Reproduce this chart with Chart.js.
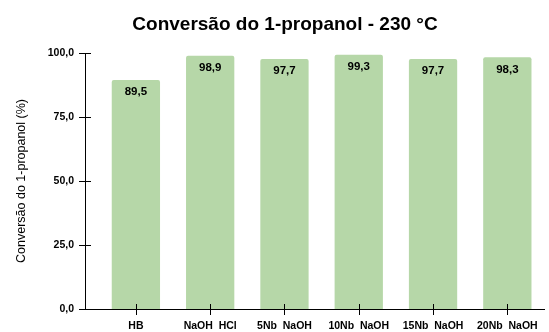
<!DOCTYPE html>
<html>
<head>
<meta charset="utf-8">
<script src="https://cdn.jsdelivr.net/npm/chart.js@4.4.1/dist/chart.umd.min.js"></script>
<style>
  html, body { margin: 0; padding: 0; background: #ffffff; }
  #wrap { width: 549px; height: 332px; }
</style>
</head>
<body>
<div id="wrap"><canvas id="c" width="549" height="332"></canvas></div>
<script>
const titleText = 'Conversão do 1-propanol - 230 °C';
const categories = ['HB', 'NaOH  HCl', '5Nb  NaOH', '10Nb  NaOH', '15Nb  NaOH', '20Nb  NaOH'];
const conversion = [89.5, 98.9, 97.7, 99.3, 97.7, 98.3];
const yTicks = [0, 25, 50, 75, 100];

const FONT = "'Liberation Sans', Arial, sans-serif";
const fmt = v => v.toFixed(1).replace('.', ',');

// Chart heading, centred a little right of the canvas middle
const heading = {
  id: 'heading',
  afterDraw(chart) {
    const ctx = chart.ctx;
    ctx.save();
    ctx.font = "bold 19px " + FONT;
    ctx.fillStyle = '#000';
    ctx.textAlign = 'center';
    ctx.textBaseline = 'alphabetic';
    ctx.fillText(titleText, 285, 30);
    ctx.restore();
  }
};

// Value labels drawn just inside the top of each bar
const barLabels = {
  id: 'barLabels',
  afterDatasetsDraw(chart) {
    const ctx = chart.ctx;
    const meta = chart.getDatasetMeta(0);
    ctx.save();
    ctx.font = "bold 11.5px " + FONT;
    ctx.fillStyle = '#000';
    ctx.textAlign = 'center';
    ctx.textBaseline = 'middle';
    meta.data.forEach((bar, i) => {
      ctx.fillText(fmt(conversion[i]), bar.x, bar.y + 12);
    });
    ctx.restore();
  }
};

// Cross-style tick marks on both axes
const crossTicks = {
  id: 'crossTicks',
  afterDraw(chart) {
    const ctx = chart.ctx;
    const xs = chart.scales.x, ys = chart.scales.y;
    const area = chart.chartArea;
    ctx.save();
    ctx.strokeStyle = '#000';
    ctx.lineWidth = 1;
    ctx.beginPath();
    yTicks.forEach(v => {
      const py = Math.round(ys.getPixelForValue(v)) + 0.5;
      ctx.moveTo(area.left - 6, py);
      ctx.lineTo(area.left + 6, py);
    });
    categories.forEach((_, i) => {
      const px = Math.round(xs.getPixelForValue(i)) + 0.5;
      ctx.moveTo(px, area.bottom - 5);
      ctx.lineTo(px, area.bottom + 6);
    });
    ctx.stroke();
    ctx.restore();
  }
};

new Chart(document.getElementById('c'), {
  type: 'bar',
  data: {
    datasets: [{
      data: conversion.map((v, i) => ({ x: i, y: v })),
      backgroundColor: '#b6d7a8',
      borderWidth: 0,
      borderRadius: 2,
      borderSkipped: 'bottom',
      barPercentage: 0.65,
      categoryPercentage: 1
    }]
  },
  options: {
    responsive: false,
    animation: false,
    layout: { padding: { left: 0, right: 4, top: 53, bottom: 0 } },
    plugins: {
      legend: { display: false },
      tooltip: { enabled: false },
      title: { display: false }
    },
    scales: {
      x: {
        type: 'linear',
        offset: false,
        min: -0.685,
        max: 5.5,
        afterBuildTicks: s => { s.ticks = categories.map((_, i) => ({ value: i })); },
        afterFit: s => { s.height = 23; },
        grid: { display: false, drawTicks: false, offset: false },
        border: { display: true, color: '#000', width: 1 },
        ticks: {
          autoSkip: false,
          maxRotation: 0,
          padding: 11,
          color: '#000',
          font: { family: FONT, size: 10.5, weight: 'bold' },
          callback: v => categories[v] ?? ''
        }
      },
      y: {
        min: 0,
        max: 100,
        afterBuildTicks: s => { s.ticks = yTicks.map(v => ({ value: v })); },
        afterFit: s => { s.width = 85; },
        grid: { display: false, drawTicks: false },
        border: { display: true, color: '#000', width: 1 },
        ticks: {
          padding: 11,
          color: '#000',
          font: { family: FONT, size: 10.5, weight: 'bold' },
          callback: v => fmt(v)
        },
        title: {
          display: true,
          text: 'Conversão do 1-propanol (%)',
          color: '#000',
          font: { family: FONT, size: 12.5 },
          padding: { top: 14, bottom: 0 }
        }
      }
    }
  },
  plugins: [barLabels, crossTicks, heading]
});
</script>
</body>
</html>
